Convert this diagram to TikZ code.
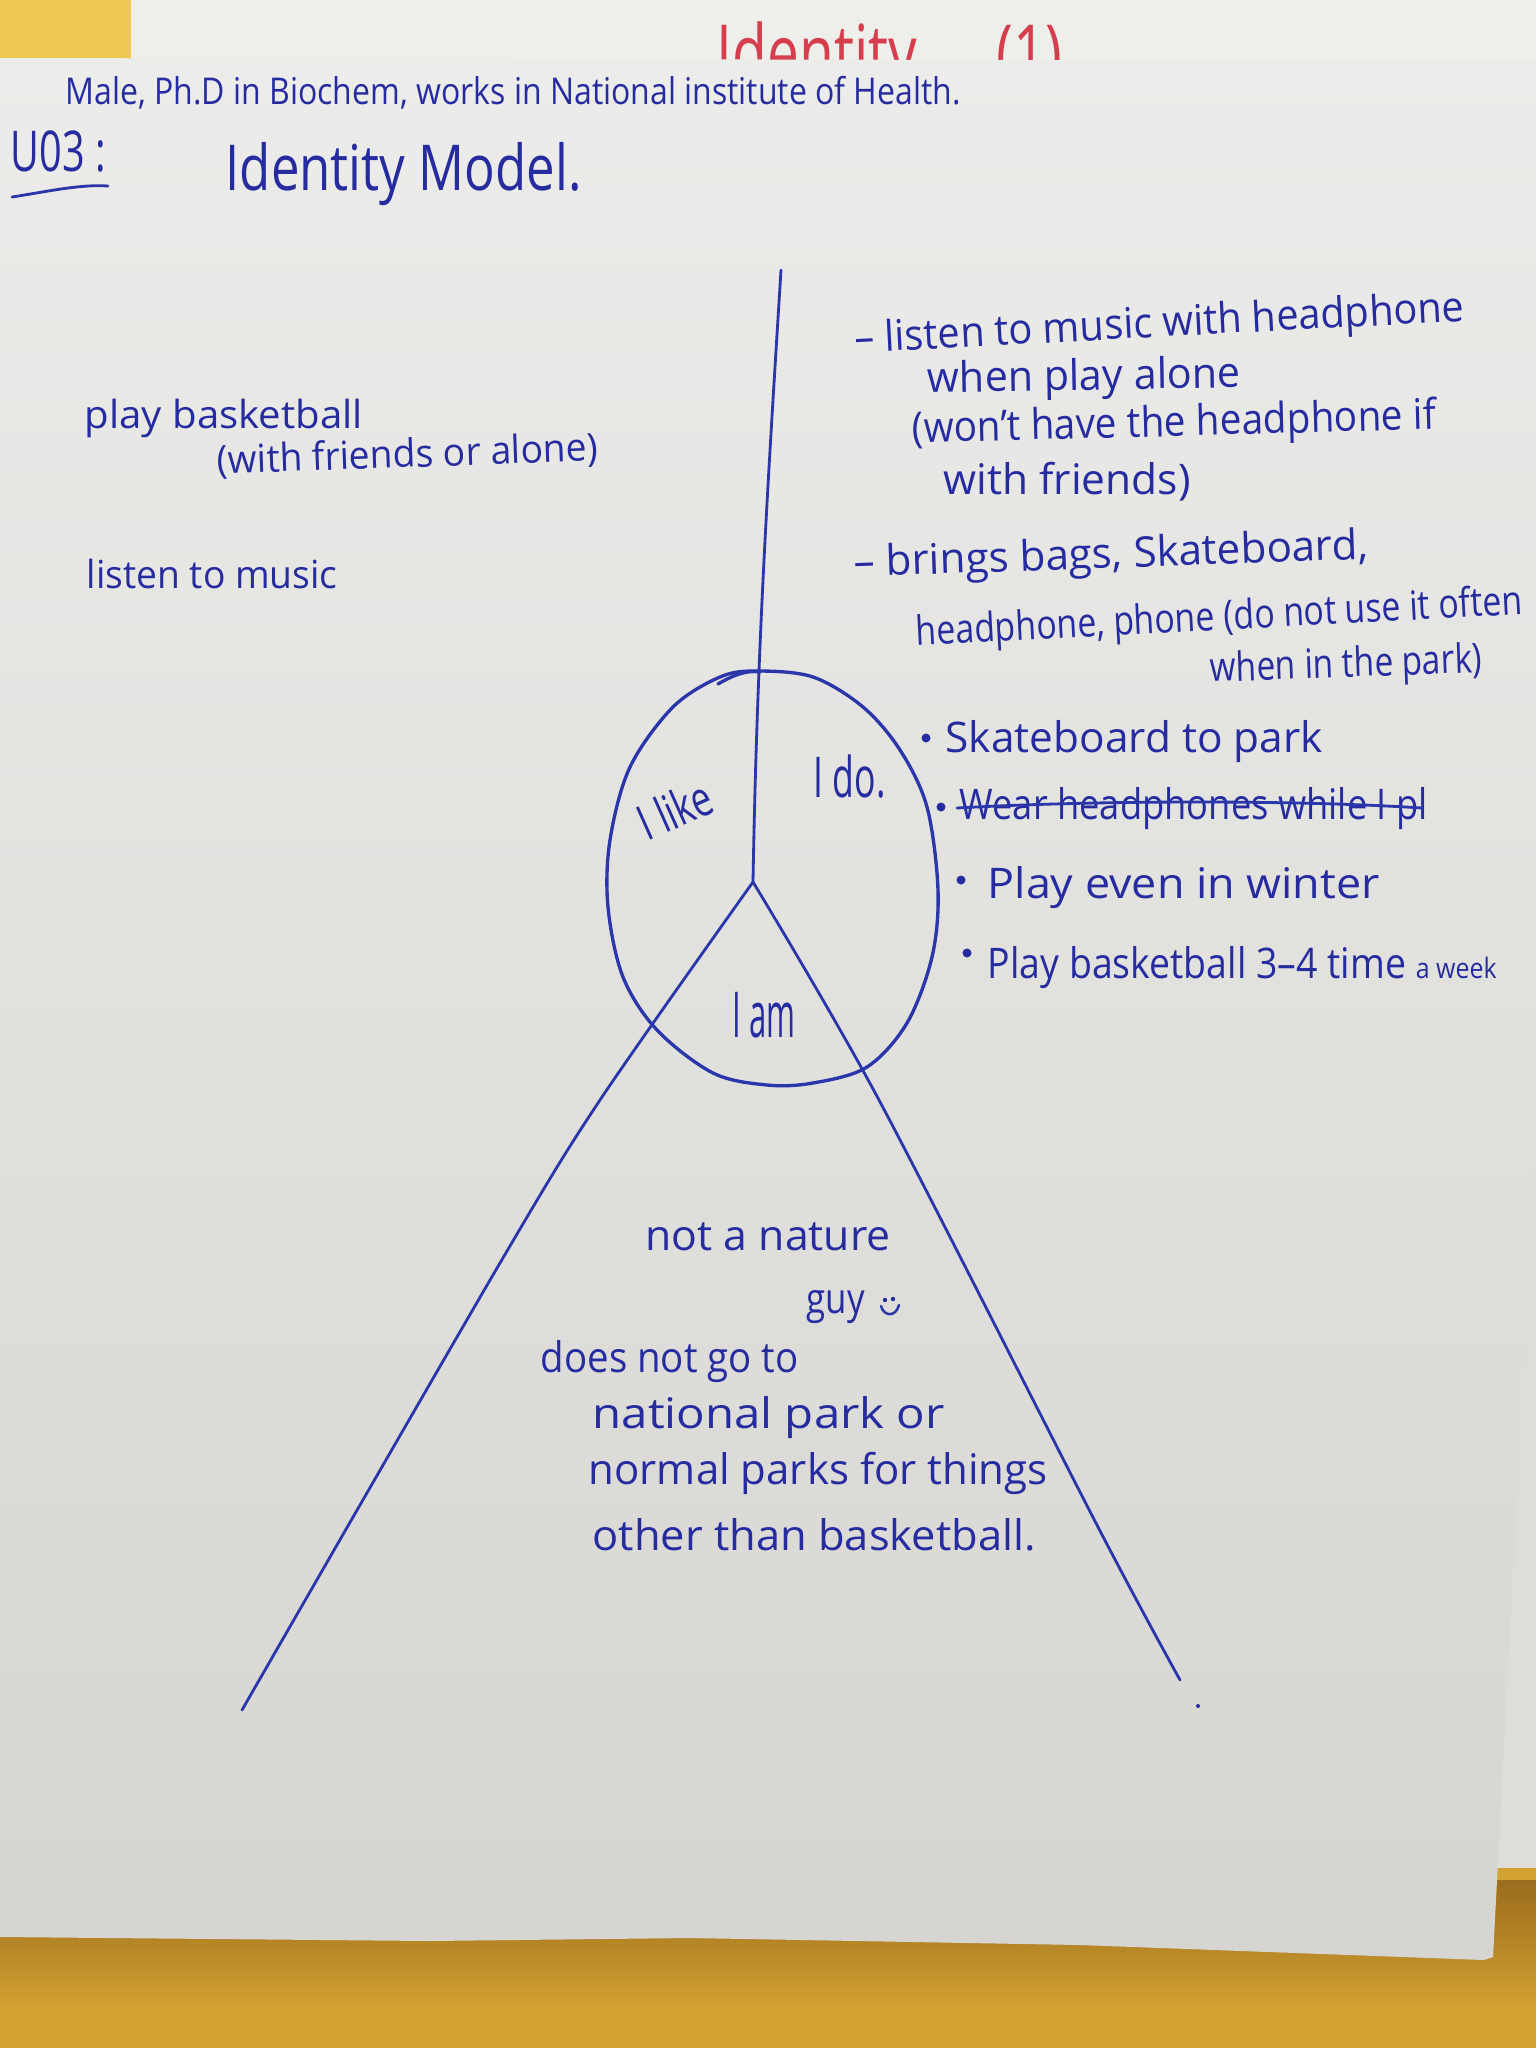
\documentclass[tikz,border=0pt]{standalone}
\usepackage{fontspec}
\usepackage{graphicx}
\setmainfont{Open Sans}
\newlength\pxu \setlength\pxu{0.01cm}
% stretch a line of writing to a given width (in px units), keeping its height
\newcommand\hw[2]{\resizebox{#1\pxu}{\height}{#2}}
\newcommand\fsz[1]{\fontsize{#1}{#1}\selectfont}
\definecolor{ink}{RGB}{38,44,160}
\definecolor{penc}{RGB}{42,54,170}
\definecolor{redink}{RGB}{214,62,78}
\definecolor{papertop}{RGB}{236,236,234}
\definecolor{paperbot}{RGB}{214,213,209}
\definecolor{wall}{RGB}{210,162,50}
\definecolor{wallshadow}{RGB}{155,108,28}
\definecolor{tape}{RGB}{238,200,82}
\definecolor{backsheet}{RGB}{238,238,235}
\definecolor{backright}{RGB}{222,221,218}
\tikzset{
  hand/.style={inner sep=0pt, anchor=base west, text=ink, font=\fsz{12}},
  pen/.style={draw=penc, line width=0.8pt, line cap=round, line join=round},
  bulletdot/.style={fill=ink, draw=none, circle, minimum size=9\pxu, inner sep=0pt},
}
\begin{document}
\begin{tikzpicture}[x=0.01cm, y=-0.01cm]
\useasboundingbox (0,0) rectangle (1536,2048);

% wall behind the sheets
\fill[wall] (0,0) rectangle (1536,2048);
\shade[top color=wallshadow, bottom color=wall] (0,1880) rectangle (1536,2010);
\fill[tape] (0,0) rectangle (131,62);

% sheet hanging above, with its red heading
\fill[backsheet] (131,0) rectangle (1536,64);
\node[hand, text=redink, font=\fsz{22}] (redhead) at (716,80) {\hw{346}{Identity\hspace{1.4em}(1)}};

% sheet showing at the right, behind
\fill[backright] (1460,1110) rectangle (1536,1868);

% the main flip-chart sheet
\shade[top color=papertop, bottom color=paperbot]
  (0,58) -- (1536,61) -- (1536,1136) -- (1493,1957) -- (1484,1960) -- (1080,1945)
  -- (690,1938) -- (430,1941) -- (0,1937) -- cycle;

% header
\node[hand, font=\fsz{10.5}] (who) at (65,104)
  {\hw{895}{Male, Ph.D in Biochem, works in National institute of Health.}};
\node[hand, font=\fsz{16}] (uid) at (10,171) {\hw{95}{U03 :}};
\draw[pen] (12,197) .. controls (45,192) and (80,184) .. (108,186);
\node[hand, font=\fsz{18}] (title) at (225,190) {\hw{356}{Identity Model.}};

% left column
\node[hand, font=\fsz{11}] (l1) at (84,428) {\hw{278}{play basketball}};
\node[hand, font=\fsz{11}, rotate=2] (l2) at (217,474) {\hw{381}{(with friends or alone)}};
\node[hand, font=\fsz{11}] (l3) at (86,588) {\hw{251}{listen to music}};

% right column
\node[hand, rotate=3] (r1) at (855,353) {\hw{610}{\textendash\ listen to music with headphone}};
\node[hand, rotate=1] (r2) at (927,393) {\hw{313}{when play alone}};
\node[hand, rotate=1.5] (r3) at (912,443) {\hw{524}{(won't have the headphone if}};
\node[hand] (r4) at (943,494) {\hw{247}{with friends)}};
\node[hand, rotate=2] (r5) at (854,577) {\hw{514}{\textendash\ brings bags, Skateboard,}};
\node[hand, rotate=3, font=\fsz{11.5}] (r6) at (916,646) {\hw{607}{headphone, phone (do not use it often}};
\node[hand, rotate=2, font=\fsz{11.5}] (r7) at (1210,682) {\hw{272}{when in the park)}};

% bullet list
\node[bulletdot] (d1) at (926,738) {};
\node[hand] (b1) at (945,752) {\hw{377}{Skateboard to park}};
\node[bulletdot] (d2) at (941,807) {};
\node[hand] (b2) at (959,819) {\hw{468}{Wear headphones while I pl}};
\draw[pen] (957,808) .. controls (1100,800) and (1300,800) .. (1422,808);
\node[bulletdot] (d3) at (961,880) {};
\node[hand] (b3) at (987,898) {\hw{392}{Play even in winter}};
\node[bulletdot] (d4) at (967,953) {};
\node[hand] (b4) at (987,978) {\hw{509}{Play basketball 3\textendash4 time {\fsz{8}a week}}};

% identity model: vertical divider, circle and triangle
\coordinate (top) at (781,270);
\coordinate (apex) at (753,882);
\coordinate (lft) at (242,1710);
\coordinate (rgt) at (1180,1680);
\draw[pen] (top) .. controls (768,480) and (757,650) .. (apex);
\draw[pen, line width=0.95pt] plot[smooth cycle, tension=0.55] coordinates {
  (757,671) (813,677) (863,707) (900,750) (927,807) (938,890) (932,957)
  (907,1023) (867,1067) (813,1083) (767,1085) (713,1073) (657,1030)
  (623,977) (608,907) (610,840) (630,767) (673,707) (720,677)};
\draw[pen, line width=0.95pt] (718,684) .. controls (735,674) and (748,670) .. (760,672);
\draw[pen] plot[smooth, tension=0.5] coordinates {(apex) (600,1100) (500,1263) (lft)};
\draw[pen] plot[smooth, tension=0.5] coordinates {(apex) (879,1100) (1098,1527) (rgt)};
\fill[ink] (1198,1706) circle (2);

% labels of the three parts
\node[hand, font=\fsz{14}, rotate=24] (ilike) at (647,842) {\hw{76}{I like}};
\node[hand, font=\fsz{16}] (ido) at (813,797) {\hw{72}{I do.}};
\node[hand, font=\fsz{18}] (iam) at (732,1037) {\hw{63}{I am}};

% text inside the triangle
\node[hand] (n1) at (645,1250) {\hw{245}{not a nature}};
\node[hand] (n2) at (806,1313) {\hw{58}{guy}};
\fill[ink] (885,1300) circle (2.2) (893,1299) circle (2.2);
\draw[pen, line width=0.7pt] (881,1306) .. controls (884,1317) and (896,1317) .. (899,1305);
\node[hand] (n3) at (540,1372) {\hw{258}{does not go to}};
\node[hand] (n4) at (592,1428) {\hw{352}{national park or}};
\node[hand] (n5) at (588,1484) {\hw{459}{normal parks for things}};
\node[hand] (n6) at (592,1550) {\hw{443}{other than basketball.}};
\end{tikzpicture}
\end{document}
